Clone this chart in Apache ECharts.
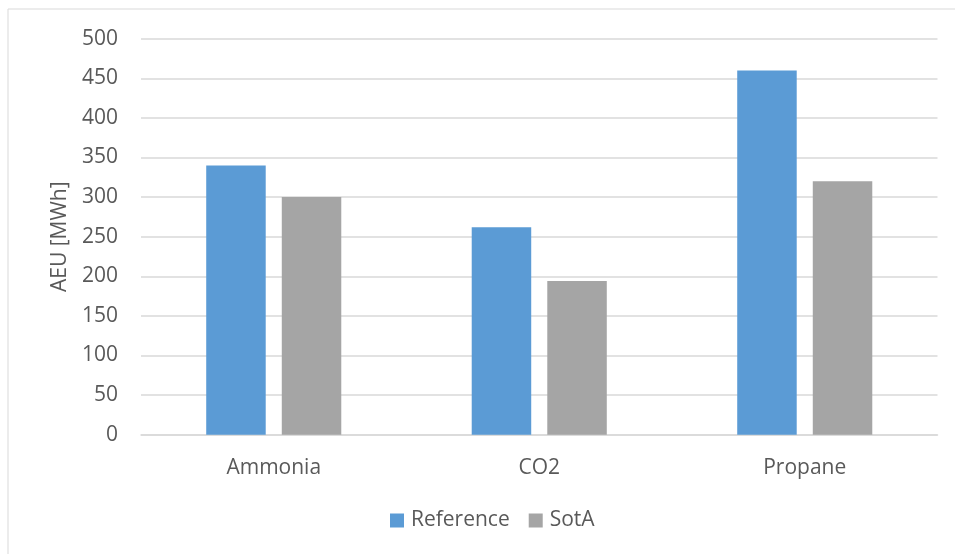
<!DOCTYPE html>
<html>
<head>
<meta charset="utf-8">
<script src="https://cdn.jsdelivr.net/npm/echarts@6/dist/echarts.min.js"></script>
<style>
  html, body { margin: 0; padding: 0; background: #ffffff; }
  #chart { width: 955px; height: 554px; }
</style>
</head>
<body>
<div id="chart"></div>
<script>
// Refrigerants compared on annual energy use
const categories = ['Ammonia', 'CO2', 'Propane'];
const referenceValues = [340, 262, 460];
const sotaValues = [300, 194, 320];
const seriesNames = ['Reference', 'SotA'];
const yTicks = { min: 0, max: 500, interval: 50 };

const textColor = '#595959';
const fontFamily = '"Open Sans", "Noto Sans", sans-serif';

const chart = echarts.init(document.getElementById('chart'), null, { renderer: 'canvas' });

chart.setOption({
  backgroundColor: '#ffffff',
  animation: false,
  graphic: [{
    type: 'rect',
    shape: { x: 8, y: 9, width: 960, height: 560 },
    style: { fill: 'none', stroke: '#d9d9d9', lineWidth: 1 },
    silent: true
  }],
  grid: { left: 141, right: 17.5, top: 38.7, bottom: 119.3 },
  legend: {
    data: seriesNames,
    bottom: 18,
    left: 385,
    itemWidth: 14,
    itemHeight: 14,
    itemGap: 19,
    icon: 'rect',
    textStyle: { color: textColor, fontSize: 21, fontFamily: fontFamily, padding: [0, 0, 0, 2] }
  },
  xAxis: {
    type: 'category',
    data: categories,
    axisLine: { lineStyle: { color: '#d9d9d9', width: 1.5 } },
    axisTick: { show: false },
    axisLabel: { color: textColor, fontSize: 21, fontFamily: fontFamily, margin: 23 }
  },
  yAxis: {
    type: 'value',
    min: yTicks.min,
    max: yTicks.max,
    interval: yTicks.interval,
    name: 'AEU [MWh]',
    nameLocation: 'middle',
    nameGap: 70,
    nameTextStyle: { color: textColor, fontSize: 21, fontFamily: fontFamily },
    axisLine: { show: false },
    axisTick: { show: false },
    axisLabel: { color: textColor, fontSize: 21, fontFamily: fontFamily, margin: 23 },
    splitLine: { lineStyle: { color: '#d9d9d9', width: 1.5 } }
  },
  series: [
    {
      name: seriesNames[0],
      type: 'bar',
      data: referenceValues,
      barWidth: 59.5,
      barGap: '27%',
      itemStyle: { color: '#5B9BD5' }
    },
    {
      name: seriesNames[1],
      type: 'bar',
      data: sotaValues,
      barWidth: 59.5,
      barGap: '27%',
      itemStyle: { color: '#A5A5A5' }
    }
  ]
});
</script>
</body>
</html>
